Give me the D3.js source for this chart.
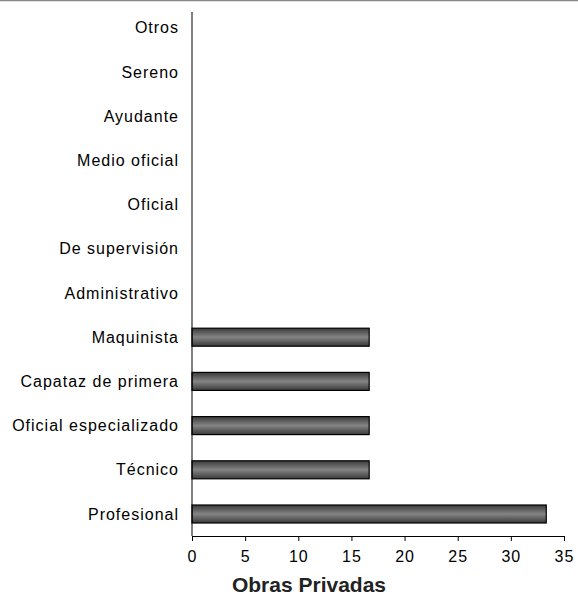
<!DOCTYPE html>
<html><head><meta charset="utf-8">
<script src="https://cdn.jsdelivr.net/npm/d3@7"></script>
<style>body{margin:0;background:#fff}svg{display:block}</style>
</head><body>
<script>
const categories = ["Otros","Sereno","Ayudante","Medio oficial","Oficial","De supervisión","Administrativo","Maquinista","Capataz de primera","Oficial especializado","Técnico","Profesional"];
const values = [0,0,0,0,0,0,0,16.67,16.67,16.67,16.67,33.33];
const xTicks = [0,5,10,15,20,25,30,35];
const axisTitle = "Obras Privadas";

const W = 578, H = 607;
const FONT = "Liberation Sans, Arial, sans-serif";
const x0 = 192, x1 = 564, yTop = 12, yBot = 536;
const svg = d3.select("body").append("svg").attr("width",W).attr("height",H);
const defs = svg.append("defs");
const g = defs.append("linearGradient").attr("id","barg").attr("x1",0).attr("y1",0).attr("x2",0).attr("y2",1);
g.append("stop").attr("offset","0%").attr("stop-color","#3a3a3a");
g.append("stop").attr("offset","50%").attr("stop-color","#848484");
g.append("stop").attr("offset","100%").attr("stop-color","#3a3a3a");

svg.append("line").attr("x1",0).attr("x2",W).attr("y1",0.5).attr("y2",0.5).attr("stroke","#888").attr("stroke-width",1.5);

const x = d3.scaleLinear().domain([0,35]).range([x0, x1]);
const y = d3.scalePoint().domain(categories).range([27.8, 514]);
const barH = 18;

svg.selectAll("rect.bar").data(categories.map((c,i)=>({c,v:values[i]})).filter(d=>d.v>0))
  .enter().append("rect").attr("class","bar")
  .attr("x",x(0)).attr("y",d=>y(d.c)-barH/2).attr("width",d=>x(d.v)-x(0)).attr("height",barH)
  .attr("fill","url(#barg)").attr("stroke","#000").attr("stroke-width",1.2);

const xa = svg.append("g").attr("transform",`translate(0,${yBot})`)
  .call(d3.axisBottom(x).tickValues(xTicks).tickSize(5).tickPadding(10).tickSizeOuter(0));
xa.select(".domain").attr("stroke","#000");
xa.selectAll("line").attr("stroke","#000");
xa.selectAll("text").attr("font-family",FONT).attr("font-size",16).attr("letter-spacing",1).attr("fill","#000");

svg.append("line").attr("x1",x0).attr("x2",x0).attr("y1",yTop).attr("y2",yBot).attr("stroke","#000");
const ya = svg.append("g").attr("transform",`translate(${x0},0)`)
  .call(d3.axisLeft(y).tickSize(0).tickPadding(13));
ya.select(".domain").remove();
ya.selectAll("text").attr("font-family",FONT).attr("font-size",16).attr("letter-spacing",1).attr("fill","#000");

svg.append("text").attr("x",309).attr("y",592).attr("text-anchor","middle")
  .attr("font-family",FONT).attr("font-size",21).attr("font-weight","bold").attr("fill","#222").text(axisTitle);
</script>
</body></html>
